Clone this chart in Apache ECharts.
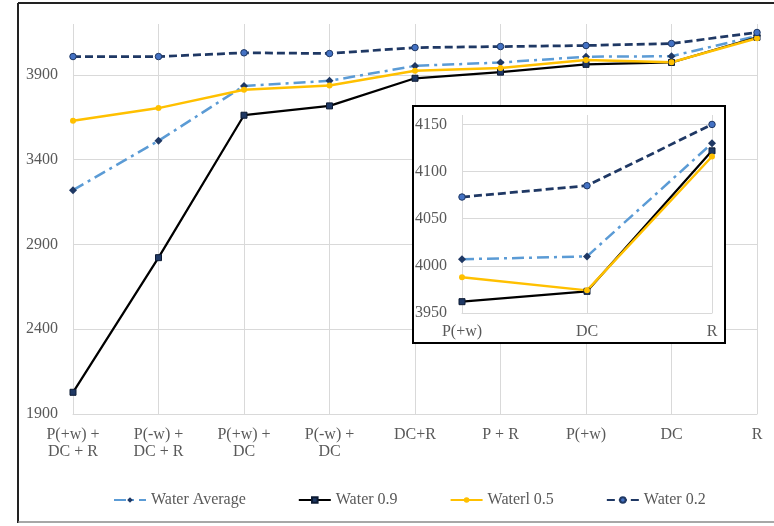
<!DOCTYPE html>
<html>
<head>
<meta charset="utf-8">
<script src="https://cdn.jsdelivr.net/npm/echarts@6/dist/echarts.min.js"></script>
<style>
html,body{margin:0;padding:0;background:#fff;}
#chart{width:774px;height:526px;}
</style>
</head>
<body>
<div id="chart"></div>
<script>
// Main chart data
var categories = ["P(+w) +\nDC + R", "P(-w) +\nDC + R", "P(+w) +\nDC", "P(-w) +\nDC", "DC+R", "P + R", "P(+w)", "DC", "R"];
var waterAverage = [3220, 3511, 3835, 3865, 3953, 3973, 4007, 4010, 4130];
var water09 = [2028, 2822, 3662, 3717, 3880, 3916, 3962, 3973, 4122];
var water05 = [3630, 3704, 3812, 3837, 3924, 3941, 3988, 3974, 4116];
var water02 = [4008, 4008, 4030, 4026, 4061, 4067, 4073, 4085, 4150];
var mainYTicks = {min: 1900, max: 4200, interval: 500};

// Inset data (last three categories, zoomed)
var insetCategories = ["P(+w)", "DC", "R"];
var insetAverage = [4007, 4010, 4130];
var inset09 = [3962, 3973, 4122];
var inset05 = [3988, 3974, 4116];
var inset02 = [4073, 4085, 4150];
var insetYTicks = {min: 3950, max: 4160, interval: 50};

var FONT = "'Liberation Serif', 'Times New Roman', serif";
var TXT = '#595959';
var GRID = '#D9D9D9';
var NAVY = '#1F3864';

function lineSeries(name, data, xi, yi, style, z) {
  return Object.assign({
    name: name, type: 'line', data: data, xAxisIndex: xi, yAxisIndex: yi,
    z: z, animation: false, showSymbol: true
  }, style);
}
var styles = {
  avg: {
    symbol: 'diamond', symbolSize: 8,
    itemStyle: {color: NAVY},
    lineStyle: {color: '#5B9BD5', width: 2.5, type: [12, 5, 3, 5]}
  },
  w09: {
    symbol: 'rect', symbolSize: 6,
    itemStyle: {color: NAVY, borderColor: '#0c1a33', borderWidth: 1},
    lineStyle: {color: '#000000', width: 2.25}
  },
  w05: {
    symbol: 'circle', symbolSize: 6,
    itemStyle: {color: '#FFC000'},
    lineStyle: {color: '#FFC000', width: 2.5}
  },
  w02: {
    symbol: 'circle', symbolSize: 6.5,
    itemStyle: {color: '#4472C4', borderColor: NAVY, borderWidth: 1},
    lineStyle: {color: NAVY, width: 2.75, type: [8, 4]}
  }
};

function xAx(data, gridIndex, margin, z) {
  return {
    type: 'category', data: data, gridIndex: gridIndex, boundaryGap: false, z: z,
    axisLine: {show: true, lineStyle: {color: GRID, width: 1}},
    axisTick: {show: false},
    splitLine: {show: true, lineStyle: {color: GRID, width: 1}},
    axisLabel: {color: TXT, fontFamily: FONT, fontSize: 16, lineHeight: 17, margin: margin, interval: 0}
  };
}
function yAx(t, gridIndex, margin, z) {
  return {
    type: 'value', gridIndex: gridIndex, min: t.min, max: t.max, interval: t.interval, z: z,
    axisLine: {show: false}, axisTick: {show: false},
    splitLine: {show: true, showMaxLine: false, lineStyle: {color: GRID, width: 1}},
    axisLabel: {color: TXT, fontFamily: FONT, fontSize: 16, margin: margin, showMaxLabel: false,
      formatter: function (v) { return String(v); }}
  };
}

var chart = echarts.init(document.getElementById('chart'), null, {renderer: 'canvas'});
chart.setOption({
  backgroundColor: '#ffffff',
  animation: false,
  grid: [
    {left: 73, right: 17, top: 24, bottom: 112},
    {left: 462, right: 62, top: 115, bottom: 213, z: 20}
  ],
  xAxis: [xAx(categories, 0, 12, 1), xAx(insetCategories, 1, 10, 20)],
  yAxis: [yAx(mainYTicks, 0, 15, 1), yAx(insetYTicks, 1, 15, 20)],
  legend: {
    left: 108, top: 487, itemWidth: 32, itemHeight: 7, itemGap: 52,
    textStyle: {color: TXT, fontFamily: FONT, fontSize: 16},
    data: ['Water Average', 'Water 0.9', 'Waterl 0.5', 'Water 0.2']
  },
  graphic: [
    {type: 'line', z: 100, shape: {x1: 18, y1: 3, x2: 780, y2: 3}, style: {stroke: '#222', lineWidth: 2}},
    {type: 'line', z: 100, shape: {x1: 18, y1: 3, x2: 18, y2: 523}, style: {stroke: '#222', lineWidth: 2}},
    {type: 'line', z: 100, shape: {x1: 18, y1: 522, x2: 780, y2: 522}, style: {stroke: '#8a8a8a', lineWidth: 1.5}},
    {type: 'rect', z: 10, shape: {x: 413, y: 106, width: 312, height: 237},
     style: {fill: '#ffffff', stroke: '#000000', lineWidth: 2}}
  ],
  series: [
    lineSeries('Water Average', waterAverage, 0, 0, styles.avg, 2),
    lineSeries('Water 0.9', water09, 0, 0, styles.w09, 2),
    lineSeries('Waterl 0.5', water05, 0, 0, styles.w05, 2),
    lineSeries('Water 0.2', water02, 0, 0, styles.w02, 2),
    lineSeries('Water Average', insetAverage, 1, 1, styles.avg, 30),
    lineSeries('Water 0.9', inset09, 1, 1, styles.w09, 30),
    lineSeries('Waterl 0.5', inset05, 1, 1, styles.w05, 30),
    lineSeries('Water 0.2', inset02, 1, 1, styles.w02, 30)
  ]
});
</script>
</body>
</html>
